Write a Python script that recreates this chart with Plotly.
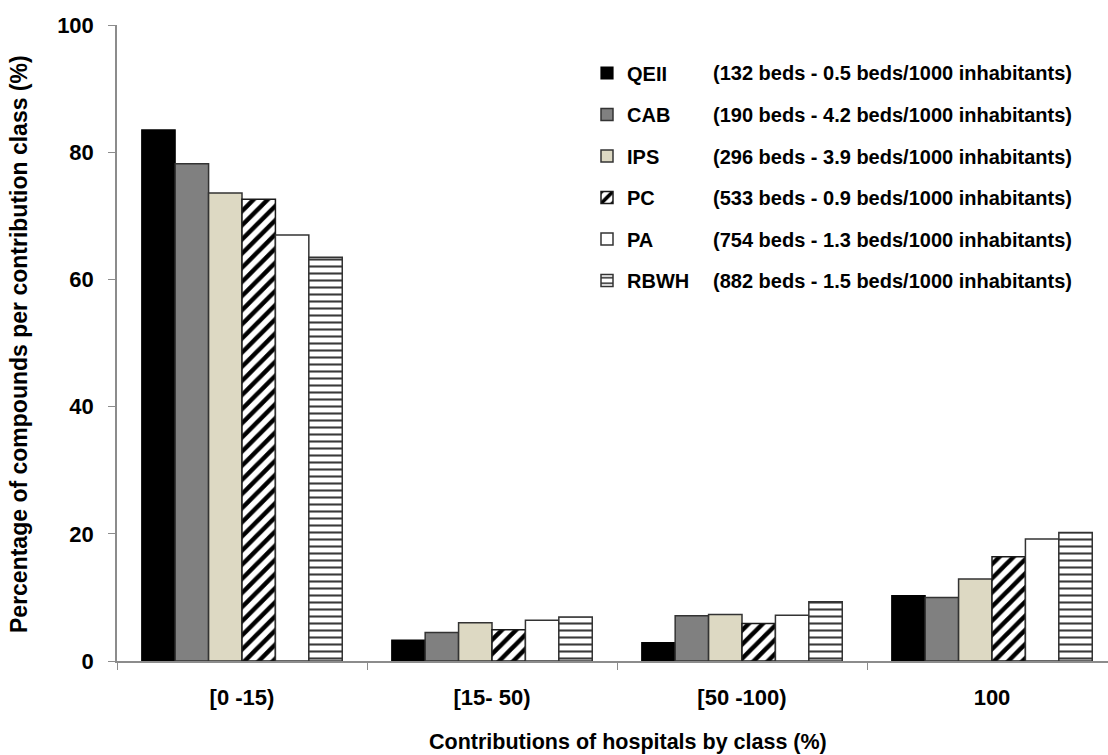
import plotly.graph_objects as go

# Contribution classes (x categories)
classes = ["[0 -15)", "[15- 50)", "[50 -100)", "100"]

# Hospitals and their descriptions
hospitals = ["QEII", "CAB", "IPS", "PC", "PA", "RBWH"]
descriptions = [
    "(132 beds - 0.5 beds/1000 inhabitants)",
    "(190 beds - 4.2 beds/1000 inhabitants)",
    "(296 beds - 3.9 beds/1000 inhabitants)",
    "(533 beds - 0.9 beds/1000 inhabitants)",
    "(754 beds - 1.3 beds/1000 inhabitants)",
    "(882 beds - 1.5 beds/1000 inhabitants)",
]

# Percentage of compounds per contribution class, one list per hospital
qeii = [83.5, 3.3, 2.9, 10.3]
cab = [78.2, 4.5, 7.1, 10.0]
ips = [73.6, 6.0, 7.3, 12.9]
pc = [72.6, 4.9, 5.9, 16.4]
pa = [67.0, 6.4, 7.2, 19.2]
rbwh = [63.5, 6.9, 9.3, 20.2]
series = [qeii, cab, ips, pc, pa, rbwh]

y_ticks = [0, 20, 40, 60, 80, 100]

W, H = 1108, 755
L, R, T, B = 117, 0, 25, 94
plot_w = W - L - R
plot_h = H - T - B

styles = [
    dict(color="#000000", line=dict(color="#000000", width=1.2)),
    dict(color="#808080", line=dict(color="#333333", width=1.5)),
    dict(color="#DDD9C3", line=dict(color="#333333", width=1.5)),
    dict(color="#FFFFFF", line=dict(color="#1a1a1a", width=1.5),
         pattern=dict(shape="/", fgcolor="#000000", bgcolor="#FFFFFF",
                      size=10, solidity=0.45, fillmode="replace")),
    dict(color="#FFFFFF", line=dict(color="#333333", width=1.5)),
    dict(color="#FFFFFF", line=dict(color="#333333", width=1.5),
         pattern=dict(shape="-", fgcolor="#3a3a3a", bgcolor="#FFFFFF",
                      size=7, solidity=0.3, fillmode="replace")),
]

fig = go.Figure()
for name, vals, st in zip(hospitals, series, styles):
    fig.add_trace(go.Bar(
        x=classes, y=vals, name=name, marker=st,
        legendgroup=name,
    ))

font_family = "Liberation Sans, Arial, sans-serif"

def px_x(x):
    return (x - L) / plot_w

def px_y(y):
    return (T + plot_h - y) / plot_h

# descriptions placed beside the legend entries
legend_rows = [73.5, 115, 156.5, 198, 239.5, 281]
annotations = []
for desc, yy in zip(descriptions, legend_rows):
    annotations.append(dict(
        text=desc, xref="paper", yref="paper", x=px_x(711), y=px_y(yy),
        xanchor="left", yanchor="middle", showarrow=False,
        font=dict(family=font_family, size=20, color="#000000", weight="bold"),
    ))

annotations.append(dict(
    text="Percentage of compounds per contribution class (%)",
    xref="paper", yref="paper", x=px_x(19), y=px_y(344), textangle=-90,
    xanchor="center", yanchor="middle", showarrow=False,
    font=dict(family=font_family, size=23, color="#000000", weight="bold"),
))
annotations.append(dict(
    text="Contributions of hospitals by class (%)",
    xref="paper", yref="paper", x=px_x(628), y=px_y(742),
    xanchor="center", yanchor="middle", showarrow=False,
    font=dict(family=font_family, size=21.5, color="#000000", weight="bold"),
))

fig.update_layout(
    width=W, height=H,
    margin=dict(l=L, r=R, t=T, b=B, pad=0),
    paper_bgcolor="#FFFFFF", plot_bgcolor="#FFFFFF",
    barmode="group", bargap=0.198, bargroupgap=0,
    font=dict(family=font_family, color="#000000"),
    showlegend=True,
    legend=dict(
        x=px_x(587), y=px_y(53.5), xanchor="left", yanchor="top",
        bgcolor="rgba(0,0,0,0)", borderwidth=0,
        tracegroupgap=12.5, traceorder="grouped",
        font=dict(family=font_family, size=20, color="#000000", weight="bold"),
        itemwidth=30,
    ),
    annotations=annotations,
    xaxis=dict(
        range=[-0.5, -0.5 + plot_w / 250.0],
        showline=True, linecolor="#8c8c8c", linewidth=1.5,
        ticks="outside", ticklen=7, tickcolor="#8c8c8c", tickwidth=1.2,
        tickson="boundaries", showgrid=False, zeroline=False,
        tickfont=dict(family=font_family, size=22, color="#000000", weight="bold"),
        ticklabelstandoff=16,
    ),
    yaxis=dict(
        range=[0, 100], tickvals=y_ticks,
        showline=True, linecolor="#8c8c8c", linewidth=1.5,
        ticks="outside", ticklen=7, tickcolor="#8c8c8c", tickwidth=1.2,
        showgrid=False, zeroline=False,
        tickfont=dict(family=font_family, size=22, color="#000000", weight="bold"),
        ticklabelstandoff=10,
    ),
)

fig.write_html("out.html")
